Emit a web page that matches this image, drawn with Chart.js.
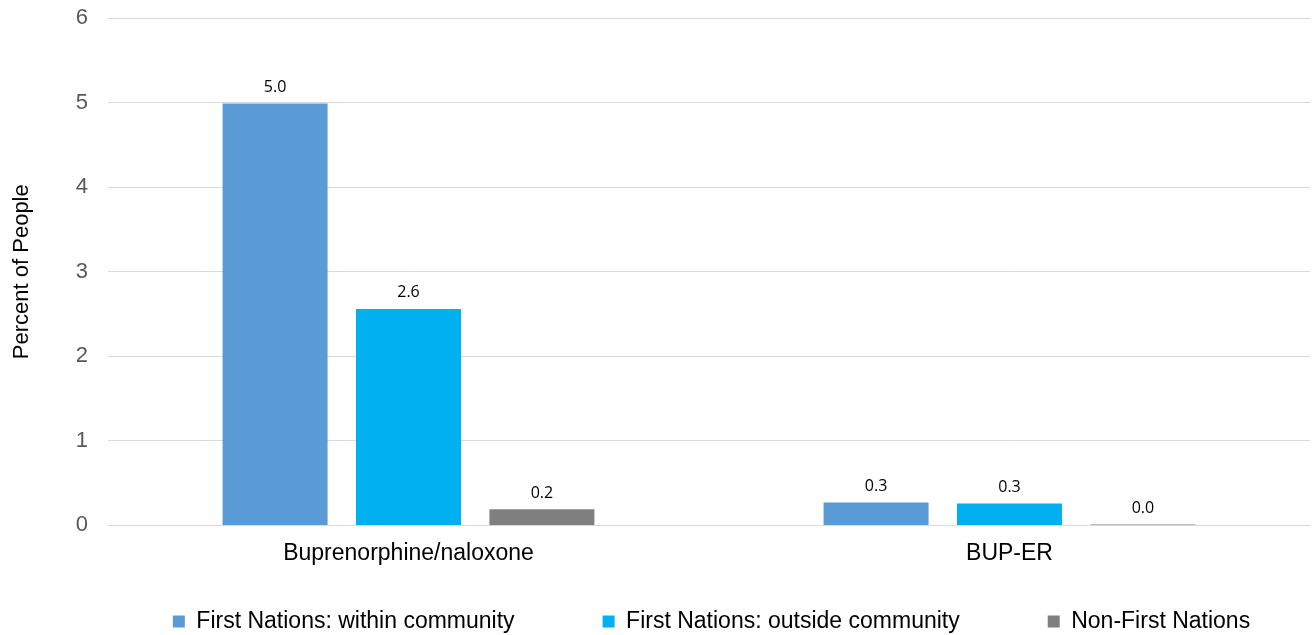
<!DOCTYPE html>
<html lang="en">

<head>
    <meta charset="UTF-8">
    <title>Buprenorphine dispensing</title>
    <script src="https://cdn.jsdelivr.net/npm/chart.js"></script>
    <style>
        body { margin: 0; background: #fff; }
        .graph { width: 1313px; height: 635px; }
    </style>
</head>

<body>
    <div class="graph">
        <canvas id="myChartCanvas"></canvas>
    </div>

<script>

    var categorias = ['Buprenorphine/naloxone', 'BUP-ER']
    var dentroComunidade = [4.99, 0.27]
    var foraComunidade = [2.56, 0.26]
    var naoPrimeirasNacoes = [0.19, 0.01]
    var ticksY = [0, 1, 2, 3, 4, 5, 6]

    // rótulos com o valor em cima de cada barra
    const rotulosBarras = {
        id: 'rotulosBarras',
        afterDatasetsDraw(chart) {
            const ctx = chart.ctx
            ctx.save()
            ctx.font = '16px "Open Sans"'
            ctx.fillStyle = '#000'
            ctx.textAlign = 'center'
            ctx.textBaseline = 'bottom'
            chart.data.datasets.forEach(function (ds, i) {
                chart.getDatasetMeta(i).data.forEach(function (bar, j) {
                    ctx.fillText(ds.data[j].toFixed(1), bar.x, bar.y - 8)
                })
            })
            ctx.restore()
        }
    }

    // legenda mais espaçada: reposiciona a caixa depois do layout
    const ajusteLegenda = {
        id: 'ajusteLegenda',
        afterLayout(chart) {
            const leg = chart.legend
            const pad = leg.options.labels.padding
            leg.top = 610 - pad
            leg.bottom = chart.height
            leg.left += 54
            leg.right += 54
        }
    }

    const ctx = document.getElementById('myChartCanvas');

    var meuGrafico = new Chart(ctx, {
        type: 'bar',
        data: {
            labels: categorias,
            datasets: [{
                label: 'First Nations: within community',
                data: dentroComunidade,
                backgroundColor: '#5b9bd5'
            }, {
                label: 'First Nations: outside community',
                data: foraComunidade,
                backgroundColor: '#00b0f0'
            }, {
                label: 'Non-First Nations',
                data: naoPrimeirasNacoes,
                backgroundColor: '#7f7f7f'
            }]
        },
        options: {
            responsive: true,
            maintainAspectRatio: false,
            animation: false,
            categoryPercentage: 0.666,
            barPercentage: 0.787,
            layout: {
                padding: { top: 18, left: 5, right: 3, bottom: 0 }
            },
            scales: {
                x: {
                    grid: { display: false },
                    border: { display: false },
                    ticks: {
                        padding: 6,
                        color: '#000',
                        font: { family: '"Liberation Sans", Arial', size: 23 }
                    }
                },
                y: {
                    min: 0,
                    max: 6,
                    afterBuildTicks: function (scale) {
                        scale.ticks = ticksY.map(function (v) { return { value: v } })
                    },
                    afterFit: function (scale) {
                        scale.width = 103
                        scale.paddingTop = 0
                        scale.paddingBottom = 0
                    },
                    grid: { color: '#d9d9d9', lineWidth: 1, drawTicks: false },
                    border: { display: false },
                    ticks: {
                        padding: 20,
                        color: '#595959',
                        font: { family: '"Liberation Sans", Arial', size: 22 }
                    },
                    title: {
                        display: true,
                        text: 'Percent of People',
                        color: '#000',
                        font: { family: '"Liberation Sans", Arial', size: 22 }
                    }
                }
            },
            plugins: {
                tooltip: { enabled: false },
                legend: {
                    position: 'bottom',
                    maxHeight: 62,
                    labels: {
                        boxWidth: 12,
                        boxHeight: 12,
                        padding: 88,
                        color: '#000',
                        font: { family: '"Liberation Sans", Arial', size: 23 }
                    }
                }
            }
        },
        plugins: [rotulosBarras, ajusteLegenda]
    });

</script>
</body>

</html>
